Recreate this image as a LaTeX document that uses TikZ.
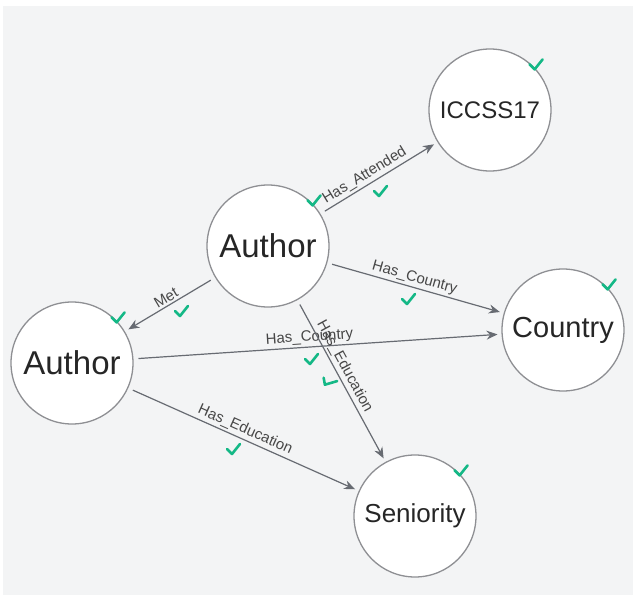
\documentclass[tikz,border=0pt]{standalone}
\usepackage{fontspec}
\setmainfont{Liberation Sans}
\usetikzlibrary{arrows.meta}

\definecolor{bggray}{HTML}{F3F4F5}
\definecolor{edgegray}{HTML}{676B72}
\definecolor{ringgray}{HTML}{8E8F93}
\definecolor{okgreen}{HTML}{14B886}

\tikzset{
	entity/.style={circle, draw=ringgray, line width=1.3pt, fill=white, minimum size=122pt, inner sep=0pt, text=black!85},
	rel/.style={draw=edgegray, line width=1.2pt, -{Stealth[length=11pt,width=9pt]}, shorten <=5pt, shorten >=4pt},
	lbl/.style={above, sloped, font=\fontsize{15}{15}\selectfont, text=black!72, inner sep=2pt},
	chk/.pic={\draw[okgreen, line width=2.6pt, line cap=round, line join=round] (-6,-1) -- (-1,4) -- (7,-6);}
}

\begin{document}
\begin{tikzpicture}[x=1pt, y=-1pt]
	\useasboundingbox (0,0) rectangle (633,595);
	\fill[bggray] (3,6) rectangle (633,595);

	\node[entity, font=\fontsize{33}{33}\selectfont] (author) at (268,246) {Author};
	\node[entity, font=\fontsize{33}{33}\selectfont] (coauthor) at (72,363) {Author};
	\node[entity, font=\fontsize{24}{24}\selectfont] (iccss) at (490,110) {ICCSS17};
	\node[entity, font=\fontsize{29}{29}\selectfont] (country) at (563,330) {Country};
	\node[entity, font=\fontsize{26}{26}\selectfont] (seniority) at (415,516) {Seniority};

	\draw[rel] (author) -- node[lbl, pos=.42] {Has\_Attended} (iccss);
	\draw[rel] (author) -- node[lbl, pos=.48] {Has\_Country} (country);
	\draw[rel] (author) -- node[lbl, pos=.5] {Met} (coauthor);
	\draw[rel] (coauthor) -- node[lbl, pos=.48] {Has\_Country} (country);
	\draw[rel] (author) -- node[lbl, pos=.44] {Has\_Education} (seniority);
	\draw[rel] (coauthor) -- node[lbl, pos=.49] {Has\_Education} (seniority);

	% ticks on the nodes
	\foreach \n in {author, coauthor, iccss, country, seniority}
		\pic at ([shift={(2,-1)}]\n.45) {chk};

	% ticks on the edges
	\pic at (380,192) {chk};
	\pic at (408,300) {chk};
	\pic at (181,312) {chk};
	\pic at (311,360) {chk};
	\pic[rotate=-35] at (328,382) {chk};
	\pic at (233,450) {chk};
\end{tikzpicture}
\end{document}
